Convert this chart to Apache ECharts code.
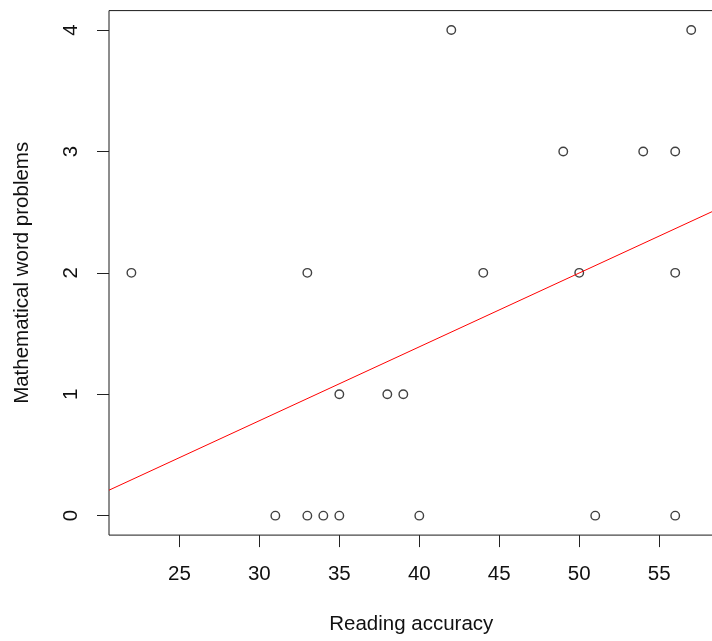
<!DOCTYPE html>
<html>
<head>
<meta charset="utf-8">
<script src="https://cdn.jsdelivr.net/npm/echarts@6/dist/echarts.min.js"></script>
<style>html,body{margin:0;padding:0;background:#fff;}#c{width:712px;height:641px;}</style>
</head>
<body>
<div id="c"></div>
<script>
// Data
var readingAccuracy = [22, 33, 31, 33, 34, 35, 40, 51, 56, 35, 38, 39, 42, 57, 49, 54, 56, 44, 50, 56];
var wordProblems    = [2,  2,  0,  0,  0,  0,  0,  0,  0,  1,  1,  1,  4,  4,  3,  3,  3,  2,  2,  2];
var fitLineX = [20.6, 58.4];
var fitLineY = [0.21, 2.51];
var xTickLabels = [25, 30, 35, 40, 45, 50, 55];
var yTickLabels = [0, 1, 2, 3, 4];
var xRange = [20.6, 58.4];
var yRange = [-0.16, 4.16];

var points = readingAccuracy.map(function (x, i) { return [x, wordProblems[i]]; });
var fitLine = fitLineX.map(function (x, i) { return [x, fitLineY[i]]; });

var font = 'Liberation Sans, Arial, sans-serif';
var chart = echarts.init(document.getElementById('c'), null, { renderer: 'canvas' });
chart.setOption({
  animation: false,
  backgroundColor: '#ffffff',
  grid: {
    left: 109, top: 10.6, width: 604.6, height: 524.5,
    outerBoundsMode: 'none', containLabel: false,
    show: true, borderColor: '#1a1a1a', borderWidth: 1, backgroundColor: 'transparent'
  },
  xAxis: {
    type: 'value', min: xRange[0], max: xRange[1], position: 'bottom',
    name: 'Reading accuracy', nameLocation: 'middle', nameGap: 79,
    nameTextStyle: { fontFamily: font, fontSize: 20.5, color: '#111' },
    axisLine: { show: false, onZero: false },
    splitLine: { show: false },
    axisTick: { show: true, inside: false, length: 12, customValues: xTickLabels, lineStyle: { color: '#222', width: 1 } },
    axisLabel: { customValues: xTickLabels, margin: 29, fontFamily: font, fontSize: 20.5, color: '#111' }
  },
  yAxis: {
    type: 'value', min: yRange[0], max: yRange[1], position: 'left',
    name: 'Mathematical word problems', nameLocation: 'middle', nameGap: 76, nameRotate: 90,
    nameTextStyle: { fontFamily: font, fontSize: 20.5, color: '#111' },
    axisLine: { show: false, onZero: false },
    splitLine: { show: false },
    axisTick: { show: true, inside: false, length: 12, customValues: yTickLabels, lineStyle: { color: '#222', width: 1 } },
    axisLabel: { customValues: yTickLabels, rotate: 90, margin: 27, fontFamily: font, fontSize: 20.5, color: '#111' }
  },
  series: [
    {
      type: 'scatter', data: points, symbol: 'circle', symbolSize: 8.5,
      itemStyle: { color: 'transparent', borderColor: '#111', borderWidth: 1.4 },
      silent: true
    },
    {
      type: 'line', data: fitLine, symbol: 'none', clip: true,
      lineStyle: { color: '#ff0000', width: 1 }, silent: true
    }
  ]
});
</script>
</body>
</html>
